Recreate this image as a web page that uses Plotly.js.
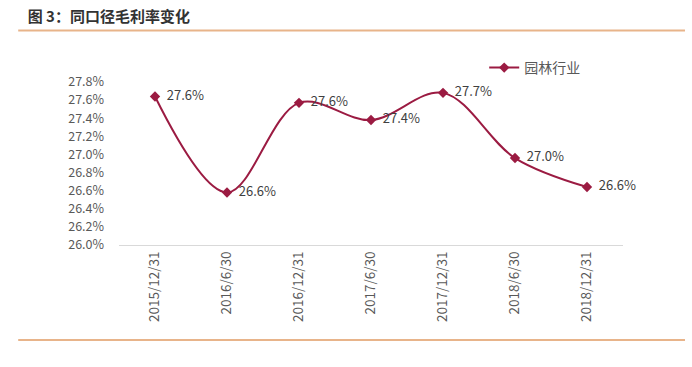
<!DOCTYPE html>
<html><head><meta charset="utf-8">
<script src="https://cdn.plot.ly/plotly-3.0.1.min.js"></script>
<style>body{margin:0;background:#fff}#c{width:692px;height:367px}</style>
</head><body><div id="c"></div>
<script>
const categories = ["2015/12/31","2016/6/30","2016/12/31","2017/6/30","2017/12/31","2018/6/30","2018/12/31"];
const grossMargin = [27.64, 26.58, 27.57, 27.38, 27.68, 26.96, 26.64];
const seriesName = "园林行业";
const yTicks = [26.0,26.2,26.4,26.6,26.8,27.0,27.2,27.4,27.6,27.8];

const font = "'Noto Sans CJK SC', 'Noto Sans', sans-serif";
const lineColor = "#9b1b42";

Plotly.newPlot("c", [{
  x: categories,
  y: grossMargin,
  type: "scatter",
  mode: "lines+markers+text",
  name: seriesName,
  line: {color: lineColor, width: 2, shape: "spline", smoothing: 1},
  marker: {symbol: "diamond", size: 8, color: lineColor},
  text: grossMargin.map(v => "\u00a0\u00a0" + v.toFixed(1) + "%"),
  textposition: "middle right",
  textfont: {family: font, size: 13, color: "#404040"},
  cliponaxis: false
}], {
  width: 692, height: 367,
  margin: {l: 119, r: 69, t: 82, b: 122},
  paper_bgcolor: "#fff", plot_bgcolor: "#fff",
  title: {text: "<b>图 3：同口径毛利率变化</b>", x: 0.04, xanchor: "left", xref: "container",
          y: 0.953, yanchor: "middle", yref: "container",
          font: {family: font, size: 15, color: "#333"}},
  showlegend: true,
  legend: {x: 0.925, xanchor: "right", y: 1.086, yanchor: "middle", orientation: "h",
           font: {family: font, size: 14, color: "#595959"}, bgcolor: "rgba(0,0,0,0)"},
  xaxis: {type: "category", range: [-0.5, 6.5], tickangle: -90, showgrid: false,
          showline: true, linecolor: "#d9d9d9", linewidth: 1, ticks: "", zeroline: false,
          tickfont: {family: font, size: 13.5, color: "#595959"}, fixedrange: true},
  yaxis: {range: [26.0, 27.8], tickvals: yTicks, ticktext: yTicks.map(v => v.toFixed(1) + "%"),
          showgrid: false, showline: false, zeroline: false, ticks: "",
          tickfont: {family: font, size: 12.5, color: "#595959"}, ticklabelstandoff: 14},
  shapes: [
    {type: "line", xref: "paper", yref: "paper", x0: -0.2, x1: 1.123, y0: 1.316, y1: 1.316,
     line: {color: "#e8b48a", width: 2}},
    {type: "line", xref: "paper", yref: "paper", x0: -0.2, x1: 1.123, y0: -0.583, y1: -0.583,
     line: {color: "#e8b48a", width: 2}}
  ]
}, {displayModeBar: false, staticPlot: true});
</script></body></html>
